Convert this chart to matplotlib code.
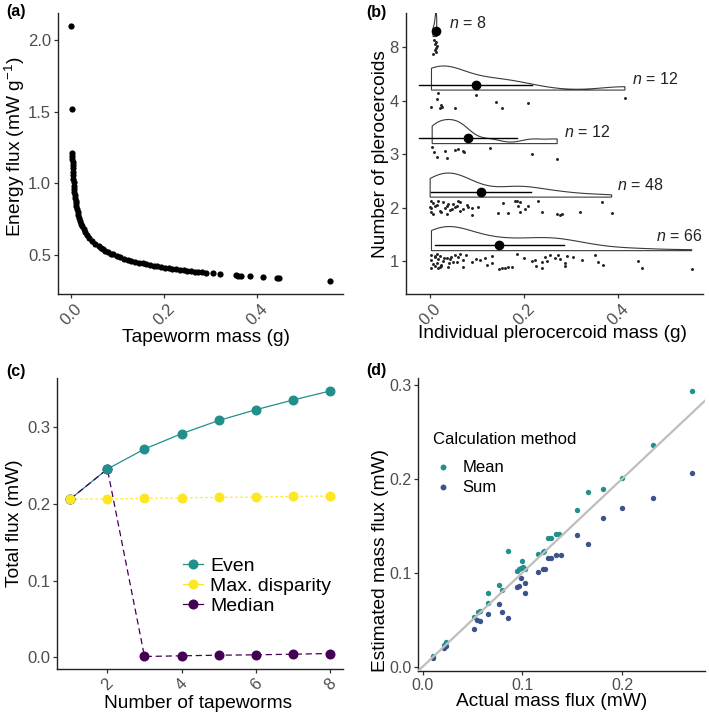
import numpy as np
import matplotlib
matplotlib.use("Agg")
import matplotlib.pyplot as plt
from matplotlib.lines import Line2D

plt.rcParams['font.family'] = ['Liberation Sans', 'DejaVu Sans']
plt.rcParams['mathtext.fontset'] = 'custom'
plt.rcParams['mathtext.rm'] = 'Liberation Sans'
plt.rcParams['mathtext.it'] = 'Liberation Sans:italic'

# ---------------- data ----------------
# (a) energy flux vs tapeworm mass
tapeworm_mass = [0.0003, 0.0011, 0.00273, 0.00291, 0.00312, 0.00334, 0.00358, 0.00385,
                 0.00429, 0.00463, 0.00519, 0.00561, 0.00633, 0.00688, 0.00748, 0.00815,
                 0.0089, 0.00974, 0.01068, 0.01173, 0.01292, 0.01426, 0.01578, 0.01751,
                 0.01948, 0.02173, 0.02432, 0.02732, 0.03078, 0.03481, 0.03953, 0.04506,
                 0.05161, 0.05938, 0.06382, 0.06869, 0.07404, 0.07988, 0.08634,
                 0.090, 0.098, 0.106, 0.114, 0.122, 0.130, 0.138, 0.146, 0.154, 0.162,
                 0.170, 0.178, 0.186, 0.194, 0.202, 0.210, 0.218, 0.226, 0.234, 0.242,
                 0.250, 0.258, 0.266, 0.274, 0.282, 0.290, 0.305, 0.320, 0.355, 0.360,
                 0.366, 0.385, 0.414, 0.443, 0.447, 0.557]
energy_flux = [2.10, 1.52, 1.21, 1.19, 1.17, 1.15, 1.13, 1.11,
               1.08, 1.06, 1.03, 1.01, 0.98, 0.96, 0.94, 0.92,
               0.90, 0.88, 0.86, 0.84, 0.82, 0.80, 0.78, 0.76,
               0.74, 0.72, 0.70, 0.68, 0.66, 0.64, 0.62, 0.60,
               0.58, 0.56, 0.55, 0.54, 0.53, 0.52, 0.51,
               0.5047, 0.4941, 0.4845, 0.4758, 0.4678, 0.4604, 0.4536, 0.4472, 0.4413, 0.4357,
               0.4305, 0.4256, 0.4210, 0.4165, 0.4123, 0.4084, 0.4046, 0.4010, 0.3975, 0.3942,
               0.3910, 0.3879, 0.3850, 0.3821, 0.3794, 0.3767, 0.3720, 0.3676, 0.3581, 0.3569,
               0.3554, 0.3510, 0.3446, 0.3388, 0.3381, 0.3200]

# (b) individual plerocercoid mass by number of plerocercoids
group_labels = ["1", "2", "3", "4", "8"]
group_n = [66, 48, 12, 12, 8]
mass_1 = [0.0028, 0.0099, 0.0135, 0.0206, 0.035, 0.0525, 0.0596, 0.077, 0.116, 0.1305,
          0.184, 0.244, 0.255, 0.265, 0.272, 0.290, 0.304, 0.350,
          0.0028, 0.0135, 0.0277, 0.042, 0.049, 0.070, 0.088, 0.1057, 0.1305, 0.2156,
          0.223, 0.237, 0.2475, 0.276, 0.2865, 0.322, 0.357, 0.4426,
          0.0028, 0.0099, 0.017, 0.024, 0.070, 0.147, 0.152, 0.159, 0.166, 0.173,
          0.226, 0.237, 0.2865, 0.368, 0.450, 0.556,
          0.0064, 0.017, 0.024, 0.200, 0.038, 0.045, 0.056, 0.063, 0.098, 0.120,
          0.010, 0.020, 0.030, 0.040]
mass_2 = [0.0028, 0.0064, 0.017, 0.0277, 0.049, 0.0596, 0.0631, 0.1553, 0.180, 0.1837,
          0.1908, 0.2298, 0.3645,
          0.0, 0.0028, 0.0099, 0.0312, 0.0348, 0.0454, 0.0525, 0.056, 0.070, 0.0809,
          0.088, 0.1021, 0.2014, 0.2085, 0.1872,
          0.0028, 0.0064, 0.0241, 0.0348, 0.088, 0.1447, 0.166, 0.1908, 0.2369, 0.2688,
          0.2759, 0.2794, 0.3184, 0.3858,
          0.0135, 0.0206, 0.0383, 0.0418, 0.0631, 0.0773]
mass_3 = [0.0043, 0.0078, 0.0149, 0.0312, 0.0348, 0.0525, 0.0596, 0.0702, 0.0723,
          0.127, 0.2156, 0.270]
mass_4 = [0.017, 0.0965, 0.414, 0.0135, 0.022, 0.1397, 0.1518, 0.207, 0.0028, 0.0206,
          0.0262, 0.0525]
mass_8 = [0.008, 0.012, 0.010, 0.014, 0.013, 0.011, 0.013, 0.006]
group_mean = [0.147, 0.108, 0.080, 0.097, 0.012]
group_sd = [0.137, 0.106, 0.104, 0.120, 0.004]

# vertical jitter of the raw points
jit_1 = [0.12, 0.08, 0.13, 0.10, 0.07, 0.11, 0.09, 0.12, 0.06, 0.10, 0.13, 0.09, 0.11, 0.07,
         0.12, 0.10, 0.08, 0.11,
         0.02, -0.03, 0.01, 0.04, -0.02, 0.03, -0.01, 0.02, -0.04, 0.00, 0.03, -0.02, 0.01,
         0.04, -0.03, 0.02, -0.01, 0.00,
         -0.12, -0.09, -0.13, -0.08, -0.11, -0.14, -0.13, -0.12, -0.11, -0.10, -0.08, -0.12,
         -0.09, -0.06, -0.13, -0.14,
         -0.05, 0.05, -0.07, 0.06, -0.10, 0.09, -0.02, 0.13, 0.04, -0.06, 0.10, -0.11, 0.07,
         -0.04]
jit_2 = [0.12, 0.09, 0.13, 0.10, 0.08, 0.12, 0.11, 0.09, 0.12, 0.13, 0.10, 0.12, 0.10,
         0.02, -0.01, 0.03, 0.00, 0.04, -0.02, 0.01, 0.03, -0.03, 0.02, 0.00, 0.01, -0.02,
         0.03, 0.04,
         -0.08, -0.11, -0.07, -0.12, -0.13, -0.10, -0.09, -0.08, -0.07, -0.12, -0.13, -0.11,
         -0.07, -0.10,
         0.06, -0.05, 0.07, -0.04, -0.06, 0.05]
jit_3 = [0.14, 0.05, -0.045, 0.07, -0.075, 0.08, 0.09, 0.07, 0.04, 0.11, 0.0, -0.09]
jit_4 = [0.14, 0.11, 0.06, 0.03, -0.07, -0.03, -0.13, -0.04, -0.12, -0.14, -0.12, -0.14]
jit_8 = [0.14, 0.10, 0.06, 0.02, -0.02, -0.05, -0.09, -0.13]

# (c) total flux vs number of tapeworms
n_tapeworms = [1, 2, 3, 4, 5, 6, 7, 8]
flux_even = [0.2066, 0.2457, 0.2718, 0.2918, 0.3090, 0.3230, 0.3357, 0.3474]
flux_maxdisp = [0.2066, 0.2066, 0.2075, 0.2080, 0.2088, 0.2092, 0.2101, 0.2105]
flux_median = [0.2066, 0.2457, 0.0013, 0.0022, 0.0030, 0.0035, 0.0043, 0.0052]
series_c = ["Even", "Max. disparity", "Median"]

# (d) estimated vs actual mass flux
mean_actual = [0.0107, 0.0217, 0.0234, 0.0514, 0.0558, 0.0574, 0.0658, 0.0658, 0.0768,
               0.0798, 0.0858, 0.0949, 0.0965, 0.0992, 0.0982, 0.1009, 0.1025, 0.1152,
               0.1202, 0.1216, 0.1259, 0.1283, 0.1336, 0.1369, 0.1543, 0.166, 0.181,
               0.1994, 0.2305, 0.270]
mean_est = [0.0113, 0.0230, 0.0262, 0.0531, 0.0584, 0.0592, 0.0673, 0.0779, 0.0868,
            0.0815, 0.1233, 0.1020, 0.1034, 0.1126, 0.1045, 0.1056, 0.1034, 0.1197,
            0.1222, 0.1229, 0.1364, 0.1364, 0.1410, 0.1410, 0.1665, 0.186, 0.1885,
            0.201, 0.2356, 0.293]
sum_actual = [0.0107, 0.0217, 0.0234, 0.0514, 0.0541, 0.0574, 0.0658, 0.0768, 0.0798,
              0.0858, 0.0949, 0.0982, 0.0969, 0.1022, 0.1025, 0.1152, 0.1202, 0.1226,
              0.1259, 0.1283, 0.1336, 0.1386, 0.1543, 0.166, 0.181, 0.1994, 0.2305, 0.270]
sum_est = [0.0089, 0.0195, 0.0223, 0.0400, 0.0496, 0.0489, 0.0560, 0.0662, 0.0577,
           0.0521, 0.0850, 0.0946, 0.0857, 0.0779, 0.0886, 0.1002, 0.1034, 0.1034,
           0.1151, 0.1151, 0.1187, 0.1187, 0.1399, 0.131, 0.158, 0.169, 0.179, 0.2065]
methods_d = ["Mean", "Sum"]

# ---------------- figure ----------------
W, H = 709, 718
fig = plt.figure(figsize=(W / 100, H / 100), dpi=100)

TICK_COL = '#4D4D4D'


def ax_at(l, r, t, b):
    return fig.add_axes([l / W, 1 - b / H, (r - l) / W, (b - t) / H])


def style(ax, tick_size=12):
    for s in ['top', 'right']:
        ax.spines[s].set_visible(False)
    for s in ['left', 'bottom']:
        ax.spines[s].set_linewidth(1.0)
        ax.spines[s].set_color('#222222')
    ax.tick_params(length=3, width=0.9, color='#333333', labelcolor=TICK_COL,
                   labelsize=tick_size, pad=2)


def ftext(x, y, s, **kw):
    fig.text(x / W, 1 - y / H, s, **kw)


# ---- (a)
axa = ax_at(58, 343, 13, 294)
style(axa)
axa.scatter(tapeworm_mass, energy_flux, s=20, color='black', linewidths=0)
axa.set_xlim(-0.028, 0.585)
axa.set_ylim(0.228, 2.19)
axa.set_xticks([0.0, 0.2, 0.4])
axa.set_xticklabels(['0.0', '0.2', '0.4'], rotation=45)
axa.set_yticks([0.5, 1.0, 1.5, 2.0])
axa.set_yticklabels(['0.5', '1.0', '1.5', '2.0'])
ftext(206, 338, 'Tapeworm mass (g)', ha='center', va='center', fontsize=13.8)
ftext(15, 147, 'Energy flux (mW g$^{-1}$)', ha='center', va='center', fontsize=13.8,
      rotation=90)

# ---- (b)
axb = ax_at(405.7, 703, 13, 294)
style(axb)
masses = [mass_1, mass_2, mass_3, mass_4, mass_8]
jitters = [jit_1, jit_2, jit_3, jit_4, jit_8]
label_x = [0.53, 0.446, 0.333, 0.478, 0.08]
label_dy = [0.47, 0.42, 0.41, 0.41, 0.45]


def kde_nrd0(vals, grid):
    v = np.asarray(vals, dtype=float)
    n = len(v)
    sd = v.std(ddof=1)
    q75, q25 = np.percentile(v, [75, 25])
    iqr = (q75 - q25) / 1.34
    lo = min(sd, iqr) if iqr > 0 else sd
    bw = 0.9 * lo * n ** -0.2
    z = (grid[:, None] - v[None, :]) / bw
    return np.exp(-0.5 * z ** 2).sum(axis=1) / (n * bw * np.sqrt(2 * np.pi))


for i, (m, j) in enumerate(zip(masses, jitters)):
    pos = i + 1
    base = pos + 0.2
    grid = np.linspace(min(m), max(m), 300)
    d = kde_nrd0(m, grid)
    d = d / d.max() * 0.45
    px = np.concatenate([[grid[0]], grid, [grid[-1]]])
    py = np.concatenate([[base], base + d, [base]])
    axb.fill(px, py, facecolor='white', edgecolor='#3a3a3a', linewidth=0.8, zorder=2)
    axb.scatter(m, pos + np.asarray(j), s=4.5, color='#222222', linewidths=0, zorder=3)
    axb.plot([group_mean[i] - group_sd[i], group_mean[i] + group_sd[i]],
             [pos + 0.3, pos + 0.3], color='black', linewidth=1.0, zorder=4)
    axb.plot([group_mean[i]], [pos + 0.3], 'o', color='black', markersize=6, zorder=5)
    axb.text(label_x[i], pos + label_dy[i], '$n$ = %d' % group_n[i], ha='center',
             va='center', fontsize=11.5, color='#222222')

axb.set_xlim(-0.052, 0.58)
axb.set_ylim(0.39, 5.64)
axb.set_xticks([0.0, 0.2, 0.4])
axb.set_xticklabels(['0.0', '0.2', '0.4'], rotation=45)
axb.set_yticks([1, 2, 3, 4, 5])
axb.set_yticklabels(group_labels)
ftext(552, 333, 'Individual plerocercoid mass (g)', ha='center', va='center', fontsize=13.8)
ftext(380, 154, 'Number of plerocercoids', ha='center', va='center', fontsize=13.8,
      rotation=90)

# ---- (c)
axc = ax_at(57.3, 343, 378.3, 669)
style(axc)
col_even, col_max, col_med = '#21908C', '#FDE725', '#440154'
axc.plot(n_tapeworms, flux_even, color=col_even, linewidth=0.9, zorder=2)
axc.plot(n_tapeworms, flux_maxdisp, color=col_max, linewidth=0.9, linestyle=(0, (2, 2)),
         zorder=2)
axc.plot(n_tapeworms, flux_median, color=col_med, linewidth=0.9, linestyle=(0, (5, 3)),
         zorder=2.5)
axc.plot(n_tapeworms, flux_median, 'o', color=col_med, markersize=6.2, zorder=3)
axc.plot(n_tapeworms, flux_even, 'o', color=col_even, markersize=6.2, zorder=3.1)
axc.plot(n_tapeworms, flux_maxdisp, 'o', color=col_max, markersize=6.2, zorder=3.2)
axc.set_xlim(0.65, 8.35)
axc.set_ylim(-0.015, 0.364)
axc.set_xticks([2, 4, 6, 8])
axc.set_xticklabels(['2', '4', '6', '8'], rotation=45)
axc.set_yticks([0.0, 0.1, 0.2, 0.3])
axc.set_yticklabels(['0.0', '0.1', '0.2', '0.3'])
handles_c = [Line2D([], [], color=c, marker='o', markersize=6.2, linewidth=0.9)
             for c in (col_even, col_max, col_med)]
legc = axc.legend(handles_c, series_c, loc='upper left',
                  bbox_to_anchor=((183.3 - 57.3) / (343 - 57.3), (669 - 557) / (669 - 378.3)),
                  frameon=False, fontsize=14, handlelength=1.03, handletextpad=0.35,
                  labelspacing=0.13, borderpad=0, borderaxespad=0)
ftext(198, 703, 'Number of tapeworms', ha='center', va='center', fontsize=13.8)
ftext(15, 523, 'Total flux (mW)', ha='center', va='center', fontsize=13.8, rotation=90)

# ---- (d)
axd = ax_at(418.3, 705, 378.3, 671)
style(axd, tick_size=11.5)
col_mean, col_sum = '#21908C', '#3B528B'
axd.scatter(mean_actual, mean_est, s=15, color=col_mean, linewidths=0, zorder=2,
            label=methods_d[0])
axd.scatter(sum_actual, sum_est, s=15, color=col_sum, linewidths=0, zorder=2,
            label=methods_d[1])
axd.axline((0, 0), slope=1, color='#BEBEBE', linewidth=1.6, zorder=3)
axd.set_xlim(-0.0044, 0.283)
axd.set_ylim(-0.0046, 0.3068)
axd.set_xticks([0.0, 0.1, 0.2])
axd.set_xticklabels(['0.0', '0.1', '0.2'])
axd.set_yticks([0.0, 0.1, 0.2, 0.3])
axd.set_yticklabels(['0.0', '0.1', '0.2', '0.3'])
legd = axd.legend(loc='upper left',
                  bbox_to_anchor=((433.3 - 418.3) / (705 - 418.3), (671 - 432) / (671 - 378.3)),
                  frameon=False, fontsize=12, title='Calculation method', title_fontsize=12,
                  alignment='left', handlelength=1.15, handletextpad=0.6, labelspacing=0.3,
                  borderpad=0, borderaxespad=0, scatterpoints=1, markerscale=1.1)
legd._legend_box.sep = 9
ftext(552, 701.7, 'Actual mass flux (mW)', ha='center', va='center', fontsize=13.8)
ftext(380, 561, 'Estimated mass flux (mW)', ha='center', va='center', fontsize=13.8,
      rotation=90)

# panel letters
for lx, ly, lab in [(6, 11.5, '(a)'), (366.7, 12, '(b)'), (6, 371.7, '(c)'), (366.7, 370, '(d)')]:
    ftext(lx, ly, lab, ha='left', va='center', fontsize=11.5, fontweight='bold')

fig.savefig('out.png', dpi=100)
